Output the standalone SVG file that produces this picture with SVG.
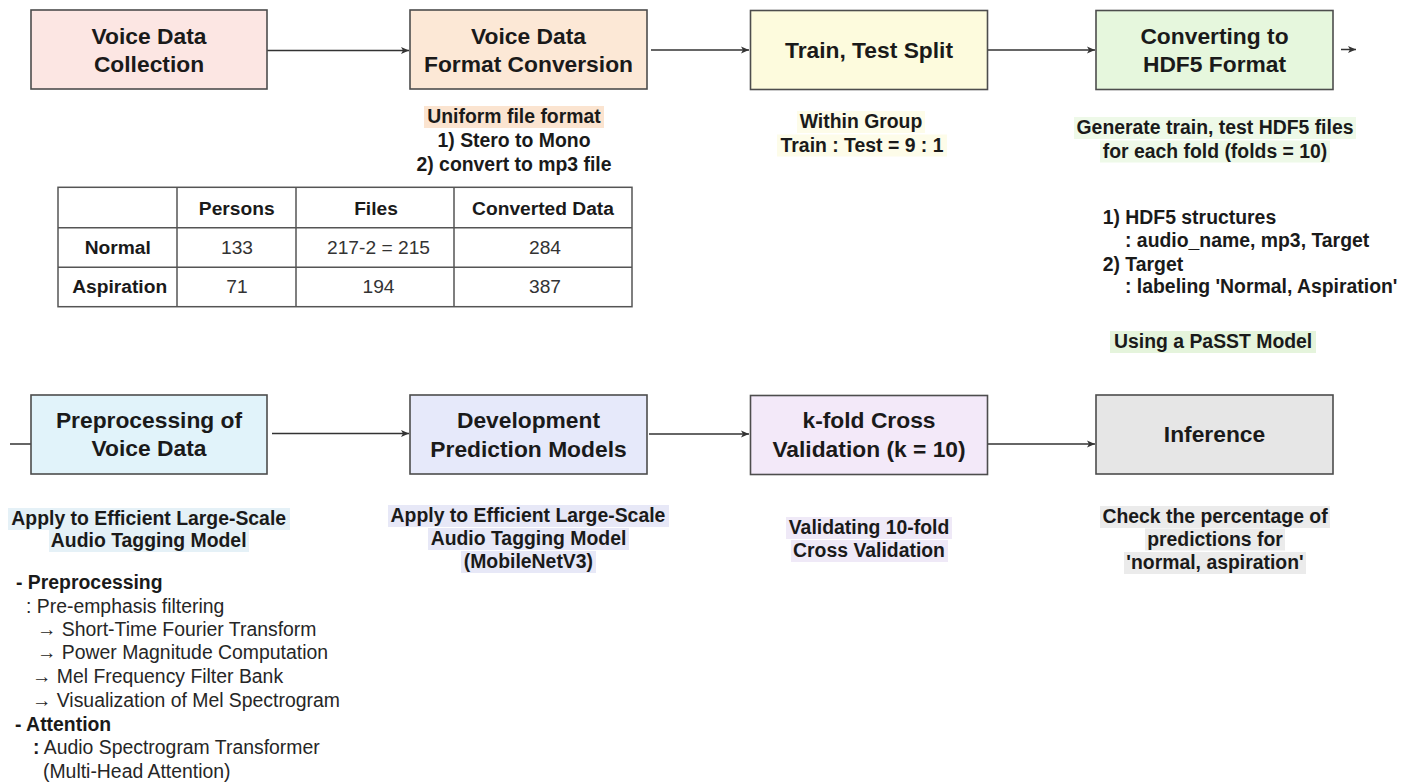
<svg xmlns="http://www.w3.org/2000/svg" width="1418" height="784" viewBox="0 0 1418 784">
<style>
.box{stroke:#4d4d4d;stroke-width:1.6}
text{font-family:"Liberation Sans",Arial,sans-serif;fill:#1a1a1a}
.lbl{font-size:22.8px;font-weight:bold;text-anchor:middle}
.sub{font-size:19.4px;font-weight:bold;text-anchor:middle}
.subl{font-size:19.4px;font-weight:bold}
.reg{font-size:19.4px;fill:#262626}
.b{font-weight:bold;fill:#1a1a1a}
.cell{font-size:19.2px;text-anchor:middle;fill:#333}
.cellb{font-size:19.2px;font-weight:bold;text-anchor:middle}
.grid{stroke:#555;stroke-width:1.5;fill:none}
.edge{stroke:#333;stroke-width:1.5;fill:none}
</style>
<defs>
<marker id="ah" markerWidth="10" markerHeight="8" refX="8" refY="4" orient="auto" markerUnits="userSpaceOnUse">
<path d="M0,0.5 L8,4 L0,7.5 L2,4 Z" fill="#333"/>
</marker>
</defs>
<rect width="1418" height="784" fill="#ffffff"/>

<g id="connectors">
<line class="edge" x1="267" y1="50.5" x2="409" y2="50.5" marker-end="url(#ah)"/>
<line class="edge" x1="651" y1="50" x2="749" y2="50" marker-end="url(#ah)"/>
<line class="edge" x1="988" y1="50" x2="1095" y2="50" marker-end="url(#ah)"/>
<line class="edge" x1="1341" y1="49.5" x2="1356" y2="49.5" marker-end="url(#ah)"/>
<line class="edge" x1="10" y1="444" x2="31" y2="444"/>
<line class="edge" x1="272" y1="433.5" x2="409" y2="433.5" marker-end="url(#ah)"/>
<line class="edge" x1="649" y1="434" x2="749" y2="434" marker-end="url(#ah)"/>
<line class="edge" x1="988" y1="444" x2="1095" y2="444" marker-end="url(#ah)"/>
</g>

<g id="node-collection">
<rect class="box" x="31" y="10" width="236" height="79" fill="#fce6e3"/>
<text class="lbl" x="149" y="44.3">Voice Data</text>
<text class="lbl" x="149" y="71.7">Collection</text>
</g>
<g id="node-format">
<rect class="box" x="410" y="10" width="237" height="79" fill="#fce8d6"/>
<text class="lbl" x="528.5" y="44.3">Voice Data</text>
<text class="lbl" x="528.5" y="71.7">Format Conversion</text>
</g>
<g id="node-split">
<rect class="box" x="750.5" y="10.5" width="237" height="79" fill="#fdfbdd"/>
<text class="lbl" x="869" y="58.3">Train, Test Split</text>
</g>
<g id="node-hdf5">
<rect class="box" x="1096" y="10.5" width="237" height="79" fill="#e6f7dd"/>
<text class="lbl" x="1214.5" y="44.3">Converting to</text>
<text class="lbl" x="1214.5" y="71.7">HDF5 Format</text>
</g>
<g id="node-preprocessing">
<rect class="box" x="31" y="395" width="236" height="79" fill="#e1f3fa"/>
<text class="lbl" x="149" y="428.3">Preprocessing of</text>
<text class="lbl" x="149" y="456">Voice Data</text>
</g>
<g id="node-development">
<rect class="box" x="410" y="395" width="237" height="79" fill="#e6e9fa"/>
<text class="lbl" x="528.5" y="428">Development</text>
<text class="lbl" x="528.5" y="457">Prediction Models</text>
</g>
<g id="node-kfold">
<rect class="box" x="750.5" y="395.5" width="237" height="79" fill="#f3e9f9"/>
<text class="lbl" x="869" y="428">k-fold Cross</text>
<text class="lbl" x="869" y="457">Validation (k = 10)</text>
</g>
<g id="node-inference">
<rect class="box" x="1096" y="395" width="237" height="79" fill="#e6e6e6"/>
<text class="lbl" x="1214.5" y="441.7">Inference</text>
</g>

<g id="note-format">
<rect x="424" y="106" width="180" height="22" fill="#fbe4d0"/>
<text class="sub" x="514" y="123">Uniform file format</text>
<text class="sub" x="514" y="146.7">1) Stero to Mono</text>
<text class="sub" x="514" y="170.7">2) convert to mp3 file</text>
</g>
<g id="note-split">
<rect x="797" y="111" width="128" height="22" fill="#fdfce9"/>
<rect x="777" y="134.5" width="170" height="22" fill="#fdfce9"/>
<text class="sub" x="861" y="128.3">Within Group</text>
<text class="sub" x="862" y="151.7">Train : Test = 9 : 1</text>
</g>
<g id="note-hdf5">
<rect x="1074" y="117" width="282" height="22" fill="#eef9e8"/>
<rect x="1100" y="140.5" width="230" height="22" fill="#eef9e8"/>
<text class="sub" x="1215" y="134">Generate train, test HDF5 files</text>
<text class="sub" x="1215" y="157.5">for each fold (folds = 10)</text>
</g>
<g id="note-structures">
<text class="subl" x="1102.7" y="224">1) HDF5 structures</text>
<text class="subl" x="1125" y="246.7">: audio_name, mp3, Target</text>
<text class="subl" x="1102.7" y="270.7">2) Target</text>
<text class="subl" x="1125" y="293">: labeling 'Normal, Aspiration'</text>
<rect x="1110" y="331" width="206" height="22" fill="#e5f4dc"/>
<text class="subl" x="1114" y="348">Using a PaSST Model</text>
</g>

<g id="table">
<rect class="grid" x="58" y="187.3" width="574" height="119.4" fill="#ffffff"/>
<line class="grid" x1="58" y1="227.7" x2="632" y2="227.7"/>
<line class="grid" x1="58" y1="267.3" x2="632" y2="267.3"/>
<line class="grid" x1="177" y1="187.3" x2="177" y2="306.7"/>
<line class="grid" x1="296" y1="187.3" x2="296" y2="306.7"/>
<line class="grid" x1="454" y1="187.3" x2="454" y2="306.7"/>
<text class="cellb" x="236.7" y="215">Persons</text>
<text class="cellb" x="376" y="215">Files</text>
<text class="cellb" x="543" y="215">Converted Data</text>
<text class="cellb" x="117.8" y="254">Normal</text>
<text class="cell" x="237" y="254">133</text>
<text class="cell" x="378.5" y="254">217-2 = 215</text>
<text class="cell" x="545" y="254">284</text>
<text class="cellb" x="119.7" y="293.3">Aspiration</text>
<text class="cell" x="237" y="293.3">71</text>
<text class="cell" x="378.5" y="293.3">194</text>
<text class="cell" x="545" y="293.3">387</text>
</g>

<g id="note-preprocessing">
<rect x="8" y="508" width="282" height="22" fill="#e5f1f7"/>
<rect x="49" y="530" width="200" height="22" fill="#e5f1f7"/>
<text class="sub" x="148.7" y="525">Apply to Efficient Large-Scale</text>
<text class="sub" x="148.7" y="546.7">Audio Tagging Model</text>
<text class="reg" x="16" y="589"><tspan class="b">- Preprocessing</tspan></text>
<text class="reg" x="26" y="612.7">: Pre-emphasis filtering</text>
<text class="reg" x="37" y="636">→ Short-Time Fourier Transform</text>
<text class="reg" x="37" y="659">→ Power Magnitude Computation</text>
<text class="reg" x="32" y="683">→ Mel Frequency Filter Bank</text>
<text class="reg" x="32" y="707">→ Visualization of Mel Spectrogram</text>
<text class="reg" x="15" y="731"><tspan class="b">- Attention</tspan></text>
<text class="reg" x="33" y="754"><tspan class="b">:</tspan> Audio Spectrogram Transformer</text>
<text class="reg" x="43" y="778">(Multi-Head Attention)</text>
</g>
<g id="note-development">
<rect x="388" y="505" width="281" height="22" fill="#e7e8f7"/>
<rect x="428" y="528" width="201" height="22" fill="#e7e8f7"/>
<rect x="461" y="551" width="135" height="22" fill="#e7e8f7"/>
<text class="sub" x="528" y="521.7">Apply to Efficient Large-Scale</text>
<text class="sub" x="528.5" y="545">Audio Tagging Model</text>
<text class="sub" x="528.4" y="568">(MobileNetV3)</text>
</g>
<g id="note-kfold">
<rect x="786" y="517" width="166" height="22" fill="#efe9f7"/>
<rect x="791" y="540" width="157" height="22" fill="#efe9f7"/>
<text class="sub" x="869" y="534">Validating 10-fold</text>
<text class="sub" x="869" y="556.7">Cross Validation</text>
</g>
<g id="note-inference">
<rect x="1100" y="506" width="230" height="22" fill="#ebebeb"/>
<rect x="1145" y="528.5" width="140" height="22" fill="#ebebeb"/>
<rect x="1124" y="552" width="182" height="22" fill="#ebebeb"/>
<text class="sub" x="1215" y="523">Check the percentage of</text>
<text class="sub" x="1215" y="545.5">predictions for</text>
<text class="sub" x="1215" y="569">'normal, aspiration'</text>
</g>
</svg>
